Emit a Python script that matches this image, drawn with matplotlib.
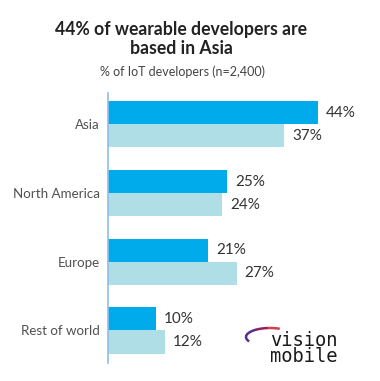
import matplotlib
matplotlib.use("Agg")
import matplotlib.pyplot as plt
from matplotlib.patches import Arc
import numpy as np

categories = ["Asia", "North America", "Europe", "Rest of world"]
wearable = [44, 25, 21, 10]
iot = [37, 24, 27, 12]
title = "44% of wearable developers are\nbased in Asia"
subtitle = "% of IoT developers (n=2,400)"

DARK = "#00ABEB"
LIGHT = "#B0DEE6"
AXIS = "#8DBEE8"
TEXT = "#333333"

plt.rcParams['font.family'] = ['Lato', 'DejaVu Sans']

W, H = 380, 381
fig = plt.figure(figsize=(W / 100, H / 100), dpi=100)
fig.patch.set_facecolor("white")

ax_left, ax_top, ax_bottom = 108, 93, 363
ax = fig.add_axes([ax_left / W, (H - ax_bottom) / H, (W - ax_left) / W, (ax_bottom - ax_top) / H])
ax.set_facecolor("none")

pos = np.arange(len(categories))
bh = 0.335
ax.barh(pos - bh / 2, wearable, height=bh, color=DARK, linewidth=0)
ax.barh(pos + bh / 2, iot, height=bh, color=LIGHT, linewidth=0)

ax.set_xlim(0, (W - ax_left) / 4.77)
ax.set_ylim(3 + 0.473, -0.456)

for p, v in zip(pos - bh / 2, wearable):
    ax.annotate(f"{v}%", (v, p), xytext=(5.5, 0), textcoords="offset points",
                va="center", ha="left", fontsize=11, color=TEXT)
for p, v in zip(pos + bh / 2, iot):
    ax.annotate(f"{v}%", (v, p), xytext=(5.5, 0), textcoords="offset points",
                va="center", ha="left", fontsize=11, color=TEXT)

ax.set_yticks(pos)
ax.set_yticklabels(categories, fontsize=9.6, color="#505050")
ax.tick_params(axis="y", length=0, pad=6)
ax.set_xticks([])
for s in ["top", "right", "bottom"]:
    ax.spines[s].set_visible(False)
ax.spines["left"].set_color(AXIS)
ax.spines["left"].set_linewidth(1.2)

fig.text(181 / W, 1 - 39 / H, title, ha="center", va="center", fontsize=12.7,
         fontweight="bold", color="#222222", linespacing=1.1)
fig.text(183 / W, 1 - 72 / H, subtitle, ha="center", va="center", fontsize=9,
         color="#444444")

# logo
fig.text(304 / W, 1 - 349 / H, "vision\nmobile", ha="center", va="center", fontsize=13.5,
         color="#1a1a1a", family="DejaVu Sans Mono", linespacing=0.8)
for t1, t2, c in [(150, 192, "#5B2C8C"), (100, 151, "#9A1E5C"), (40, 101, "#D0404A")]:
    arc = Arc((270 / W, 1 - 337 / H), 48 / W, 18 / H, angle=0, theta1=t1, theta2=t2,
              transform=fig.transFigure, color=c, linewidth=1.8)
    fig.add_artist(arc)

fig.savefig("out.png", dpi=100)
